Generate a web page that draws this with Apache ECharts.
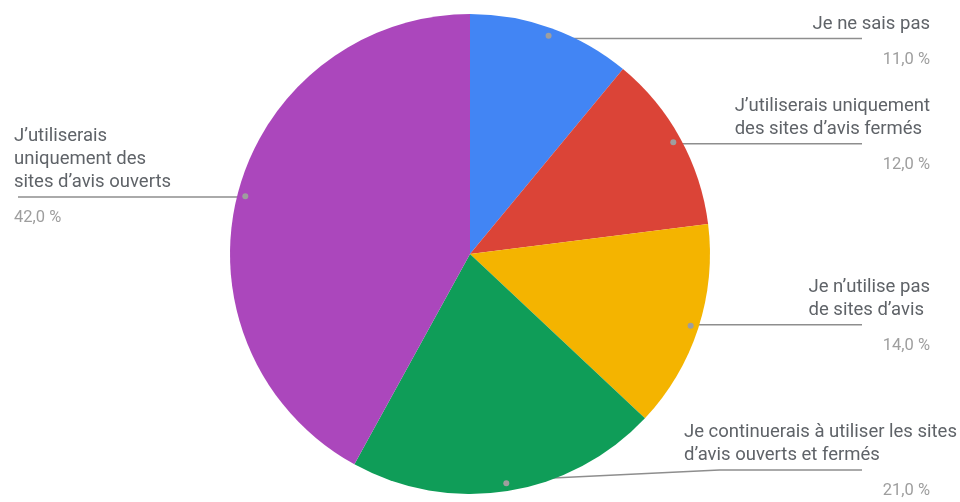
<!DOCTYPE html>
<html>
<head>
<meta charset="utf-8">
<script src="https://cdn.jsdelivr.net/npm/echarts@6/dist/echarts.min.js"></script>
<style>
html,body{margin:0;padding:0;background:#fff;}
#chart{width:960px;height:502px;}
</style>
</head>
<body>
<div id="chart"></div>
<script>
const categories = [
  "Je ne sais pas",
  "J’utiliserais uniquement\ndes sites d’avis fermés",
  "Je n’utilise pas\nde sites d’avis",
  "Je continuerais à utiliser les sites\nd’avis ouverts et fermés",
  "J’utiliserais\nuniquement des\nsites d’avis ouverts"
];
const values = [11, 12, 14, 21, 42];
const colors = ["#4285f4", "#db4437", "#f4b400", "#0f9d58", "#ab47bc"];

const W = 960, H = 502;
const FONT = "Roboto, 'Noto Sans', Arial, sans-serif";
const MAX_BLOCK = 246;

function fmtPct(v) {
  return v.toFixed(1).replace('.', ',') + ' %';
}

const total = values.reduce((s, v) => s + v, 0);
const midFrac = values.map((v, i) => (values.slice(0, i).reduce((s, x) => s + x, 0) + v / 2) / total);

const data = categories.map((c, i) => ({ name: c, value: values[i], itemStyle: { color: colors[i] } }));

const chart = echarts.init(document.getElementById('chart'), null, { renderer: 'canvas' });

chart.setOption({
  animation: false,
  backgroundColor: '#fff',
  series: [
    {
      type: 'pie',
      center: [470, 254],
      radius: [0, 240],
      startAngle: 90,
      clockwise: true,
      silent: true,
      avoidLabelOverlap: false,
      itemStyle: { borderWidth: 0 },
      data: data,
      label: {
        show: true,
        position: 'outside',
        overflow: 'none',
        fontFamily: FONT,
        formatter: function (p) {
          const rightSide = midFrac[p.dataIndex] < 0.5;
          return '{n|' + p.name + '}\n{g| }\n{' + (rightSide ? 'pr' : 'pl') + '|' + fmtPct(p.value) + '}';
        },
        rich: {
          n: { fontFamily: FONT, fontSize: 18.5, lineHeight: 23, color: '#5f6368', align: 'left' },
          g: { fontSize: 8, lineHeight: 12 },
          pr: { fontFamily: FONT, fontSize: 16.5, lineHeight: 24, color: '#9e9e9e', align: 'right' },
          pl: { fontFamily: FONT, fontSize: 16.5, lineHeight: 24, color: '#9e9e9e', align: 'left' }
        }
      },
      labelLine: { show: true, length: 10, length2: 10, lineStyle: { color: '#8e8e8e', width: 1.4 } },
      labelLayout: function (p) {
        const pts = p.labelLinePoints;
        if (!pts) return {};
        const a = pts[0], b = pts[1];
        const dx = b[0] - a[0], dy = b[1] - a[1];
        const len = Math.sqrt(dx * dx + dy * dy) || 1;
        const ux = dx / len, uy = dy / len;
        const dot = [a[0] - ux * 11, a[1] - uy * 11];
        const right = ux >= 0;
        const lineY = Math.min(dot[1], H - 32);
        const endX = right ? W - 98 : 18;
        const bendX = Math.abs(lineY - dot[1]) < 0.5 ? dot[0] : dot[0] + (endX - dot[0]) * 0.6;
        const out = {
          x: right ? 930 : 14,
          y: lineY + 33,
          align: right ? 'right' : 'left',
          verticalAlign: 'bottom',
          labelLinePoints: [dot, [bendX, lineY], [endX, lineY]]
        };
        if (right && p.labelRect) out.width = Math.min(p.labelRect.width, MAX_BLOCK);
        return out;
      }
    },
    {
      type: 'pie',
      center: [470, 254],
      radius: [218, 240],
      startAngle: 90,
      clockwise: true,
      silent: true,
      z: 5,
      itemStyle: { color: 'rgba(0,0,0,0)', borderWidth: 0 },
      data: categories.map((c, i) => ({ name: c, value: values[i] })),
      label: {
        show: true,
        position: 'inside',
        formatter: '{d| }',
        rich: { d: { width: 6, height: 6, borderRadius: 3, backgroundColor: '#9e9e9e', fontSize: 1, lineHeight: 6 } }
      },
      labelLine: { show: false }
    }
  ]
});
</script>
</body>
</html>
